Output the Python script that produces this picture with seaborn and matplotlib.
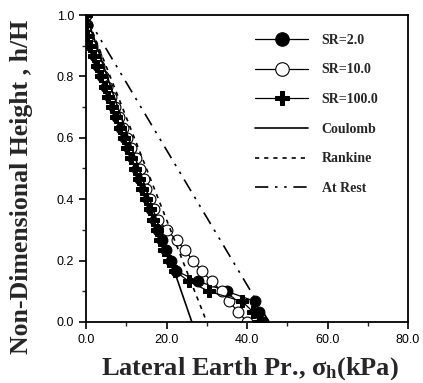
import matplotlib
matplotlib.use("Agg")
import matplotlib.pyplot as plt
import seaborn as sns
from matplotlib.ticker import MultipleLocator, FormatStrFormatter

# ---- data ----
h_vals = [1.000, 0.967, 0.933, 0.900, 0.867, 0.833, 0.800, 0.767, 0.733, 0.700,
          0.667, 0.633, 0.600, 0.567, 0.533, 0.500, 0.467, 0.433, 0.400, 0.367,
          0.333, 0.300, 0.267, 0.233, 0.200, 0.167, 0.133, 0.100, 0.067, 0.033, 0.000]
sr2 = [0.0, 0.2, 0.4, 1.2, 2.2, 3.1, 4.0, 5.0, 5.9, 6.9,
       7.8, 8.8, 9.8, 10.7, 11.7, 12.6, 13.5, 14.4, 15.3, 16.2,
       17.1, 18.0, 18.9, 19.9, 21.0, 22.3, 27.8, 35.0, 42.0, 43.0, 44.0]
sr10 = [0.0, 0.3, 0.6, 1.4, 2.4, 3.3, 4.3, 5.3, 6.3, 7.3,
        8.3, 9.3, 10.3, 11.3, 12.4, 13.4, 14.3, 15.0, 15.8, 16.8,
        18.0, 20.0, 22.5, 24.6, 26.6, 28.7, 31.2, 33.7, 35.5, 37.8, 40.0]
sr100 = [0.0, 0.1, 0.3, 1.0, 1.9, 2.8, 3.7, 4.6, 5.5, 6.5,
         7.4, 8.4, 9.4, 10.3, 11.3, 12.2, 13.1, 14.0, 14.9, 15.8,
         16.7, 17.6, 18.4, 19.5, 20.6, 22.0, 25.5, 30.5, 38.8, 41.5, 43.0]
line_h = [1.0, 0.0]
coulomb = [0.0, 26.3]
rankine = [0.0, 30.0]
at_rest = [0.0, 45.5]
x_ticks = [0, 20, 40, 60, 80]
y_ticks = [0.0, 0.2, 0.4, 0.6, 0.8, 1.0]

sns.set_theme(style="white")
plt.rcParams['font.family'] = ['Liberation Sans', 'DejaVu Sans']
plt.rcParams['mathtext.fontset'] = 'custom'
plt.rcParams['mathtext.rm'] = 'Liberation Serif:bold'
plt.rcParams['mathtext.it'] = 'Liberation Serif:bold'
plt.rcParams['mathtext.bf'] = 'Liberation Serif:bold'

fig = plt.figure(figsize=(4.23, 3.83), dpi=100)
ax = fig.add_axes([86/423, 1 - 322/383, 322/423, 307/383])

k = dict(ax=ax, sort=False, estimator=None, color='black', linewidth=0.9)
sns.lineplot(x=sr2, y=h_vals, marker='o', markersize=7.8, markerfacecolor='black',
             markeredgecolor='black', label='SR=2.0', **k)
sns.lineplot(x=sr10, y=h_vals, marker='o', markersize=7.8, markerfacecolor='white',
             markeredgecolor='black', markeredgewidth=0.8, label='SR=10.0', **k)
sns.lineplot(x=sr100, y=h_vals, marker='P', markersize=8.2, markerfacecolor='black',
             markeredgecolor='black', label='SR=100.0', **k)
sns.lineplot(x=coulomb, y=line_h, label='Coulomb', ax=ax, sort=False, estimator=None,
             color='black', linewidth=1.2)
sns.lineplot(x=rankine, y=line_h, label='Rankine', ax=ax, sort=False, estimator=None,
             color='black', linewidth=1.2, dashes=False)
sns.lineplot(x=at_rest, y=line_h, label='At Rest', ax=ax, sort=False, estimator=None,
             color='black', linewidth=1.2)
lines = ax.get_lines()
lines[4].set_dashes([2.5, 3])
lines[5].set_dashes([8, 4, 1.5, 4, 1.5, 4])

ax.set_xlim(0, 80)
ax.set_ylim(0, 1.0)
ax.set_xticks(x_ticks)
ax.set_yticks(y_ticks)
ax.xaxis.set_major_formatter(FormatStrFormatter('%.1f'))
ax.yaxis.set_major_formatter(FormatStrFormatter('%.1f'))
ax.xaxis.set_minor_locator(MultipleLocator(10))
ax.yaxis.set_minor_locator(MultipleLocator(0.1))
ax.tick_params(which='major', direction='out', length=5, width=1.2, labelsize=9,
               colors='black', bottom=True, left=True)
ax.tick_params(which='minor', direction='out', length=3, width=1, bottom=True, left=True)
for s in ax.spines.values():
    s.set_visible(True)
    s.set_color('black')
    s.set_linewidth(1.3)

ax.set_xlabel(r'Lateral Earth Pr., $\sigma_{h}$(kPa)', family='Liberation Serif',
              fontweight='bold', fontsize=19)
ax.set_ylabel('Non-Dimensional Height , h/H', family='Liberation Serif',
              fontweight='bold', fontsize=18.5)
ax.xaxis.set_label_coords(0.51, -0.108)
ax.yaxis.set_label_coords(-0.20, 0.44)
ax.yaxis.label.set_va('center')

leg = ax.legend(loc='upper left', bbox_to_anchor=(0.508, 0.957), borderaxespad=0,
                frameon=False, handlelength=3.8, labelspacing=1.2, handletextpad=1.0,
                markerscale=1.25,
                prop={'family': 'Liberation Serif', 'weight': 'bold', 'size': 10})

fig.savefig('out.png', dpi=100)
